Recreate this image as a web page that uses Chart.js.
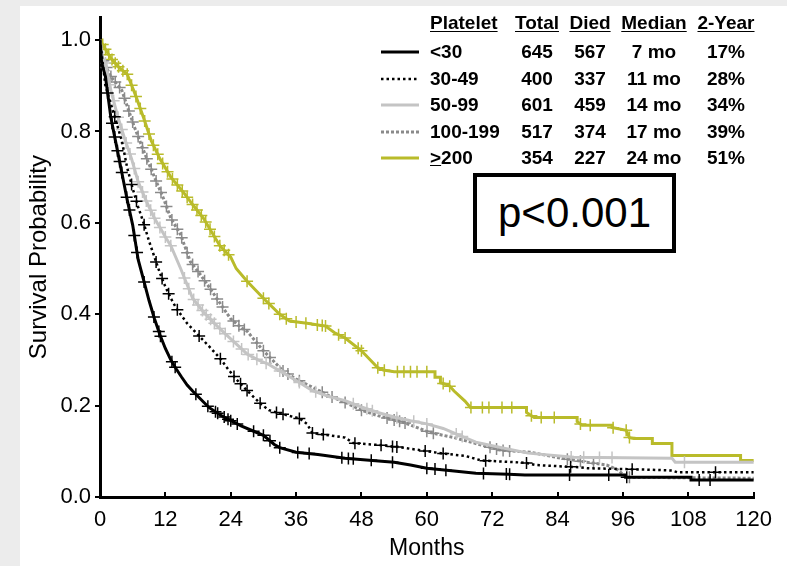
<!DOCTYPE html>
<html>
<head>
<meta charset="utf-8">
<title>Supervivencia por plaquetas</title>
<script src="https://cdn.jsdelivr.net/npm/chart.js@4.4.1/dist/chart.umd.min.js"></script>
<style>
    html, body { margin: 0; padding: 0; background: #fff; }
    #marco { position: relative; width: 787px; height: 566px; overflow: hidden; background: #ececec; }
    #hoja { position: absolute; left: 20px; top: 6px; right: 0; bottom: 0; background: #fff; }
    #grafica { position: absolute; left: 0; top: 0; }
    .celda { position: absolute; font: bold 19px "Liberation Sans", Arial, sans-serif; color: #000; line-height: 22px; height: 22px; white-space: nowrap; }
    .centro { width: 90px; text-align: center; }
    .cabecera { text-decoration: underline; text-underline-offset: 2px; }
    .muestra { position: absolute; }
    #pvalor { position: absolute; left: 473px; top: 173px; width: 195px; height: 72px; border: 4px solid #000; background: #fff;
              font: 42px "Liberation Sans", Arial, sans-serif; line-height: 72px; text-align: center; color: #000; }
</style>
</head>
<body>
<div id="marco">
    <div id="hoja"></div>
    <canvas id="grafica" width="787" height="566"></canvas>
    <div id="tabla"></div>
    <div id="pvalor">p&lt;0.001</div>
</div>
<script>
// Tabla de la leyenda
const grupos = ['<30', '30-49', '50-99', '100-199', '>200'];
const totales = [645, 400, 601, 517, 354];
const muertes = [567, 337, 459, 374, 227];
const medianas = ['7 mo', '11 mo', '14 mo', '17 mo', '24 mo'];
const dosAnios = ['17%', '28%', '34%', '39%', '51%'];

// Marcas del eje
const ticksMeses = [0, 12, 24, 36, 48, 60, 72, 84, 96, 108, 120];
const ticksProb = [0, 0.2, 0.4, 0.6, 0.8, 1.0];

// Curvas de Kaplan-Meier (meses, supervivencia)
const tMenos30 = [0, 0.3, 1, 2, 3, 4, 5, 6, 7, 8, 9, 10, 11, 12, 13, 14, 15, 16, 17, 18, 19, 20, 22, 24, 26, 28, 30, 32, 33, 36, 40, 45, 50, 54, 57, 60, 65, 69, 75, 78, 96.5, 96.5, 108.5, 108.5, 121];
const sMenos30 = [1, 0.95, 0.92, 0.83, 0.77, 0.71, 0.65, 0.595, 0.52, 0.475, 0.43, 0.39, 0.355, 0.325, 0.30, 0.28, 0.262, 0.245, 0.232, 0.22, 0.208, 0.196, 0.18, 0.167, 0.155, 0.145, 0.135, 0.115, 0.108, 0.098, 0.093, 0.085, 0.08, 0.076, 0.07, 0.063, 0.057, 0.052, 0.05, 0.048, 0.048, 0.043, 0.043, 0.037, 0.037];

const t30a49 = [0, 1, 2, 3, 4, 5, 6, 7, 8, 9, 10, 11, 12, 13, 14, 16, 18, 20, 22, 23.5, 25, 27, 29.4, 31, 33, 36.6, 38, 39, 42, 45, 46.5, 52, 55, 59, 63, 67, 70, 78, 80, 88, 89.5, 100, 105, 106, 121];
const s30a49 = [1, 0.9, 0.86, 0.82, 0.78, 0.72, 0.675, 0.635, 0.6, 0.56, 0.525, 0.49, 0.46, 0.435, 0.413, 0.38, 0.355, 0.33, 0.304, 0.28, 0.258, 0.233, 0.205, 0.19, 0.183, 0.172, 0.16, 0.14, 0.135, 0.13, 0.118, 0.113, 0.109, 0.102, 0.095, 0.09, 0.08, 0.075, 0.07, 0.065, 0.063, 0.06, 0.058, 0.054, 0.054];

const t50a99 = [0, 0.5, 1, 2, 3.2, 4.5, 5.8, 7, 8.6, 10, 11, 12.2, 13, 14.8, 17, 19, 21, 23, 25, 27, 29, 31, 33, 36, 39, 42, 45, 48, 51, 54, 57, 60, 63, 67, 69, 72, 78.6, 87, 105, 105.6, 121];
const s50a99 = [1, 0.96, 0.95, 0.89, 0.835, 0.785, 0.74, 0.69, 0.645, 0.61, 0.59, 0.565, 0.55, 0.5, 0.435, 0.405, 0.38, 0.357, 0.335, 0.313, 0.3, 0.29, 0.276, 0.255, 0.233, 0.22, 0.211, 0.197, 0.185, 0.175, 0.167, 0.16, 0.15, 0.13, 0.12, 0.112, 0.096, 0.087, 0.085, 0.076, 0.076];

const t100a199 = [0, 0.5, 2, 4, 6.3, 8.6, 10, 11.7, 13, 14.8, 16.6, 18.4, 20, 23, 24, 26, 27, 30, 33.6, 36, 39, 42, 45, 48, 51, 55.8, 60.6, 65, 69, 73.8, 79, 84.6, 90, 93, 95, 96.6, 121];
const s100a199 = [1, 0.957, 0.92, 0.89, 0.81, 0.74, 0.70, 0.652, 0.61, 0.574, 0.515, 0.487, 0.46, 0.407, 0.39, 0.37, 0.363, 0.32, 0.276, 0.258, 0.24, 0.222, 0.207, 0.19, 0.178, 0.163, 0.141, 0.13, 0.117, 0.102, 0.098, 0.085, 0.075, 0.07, 0.06, 0.043, 0.041];

const tMas200 = [0, 1, 2, 3.5, 5, 6.5, 8, 9.4, 11, 13, 15.3, 17, 19, 22, 24, 25, 27, 30, 33, 34.8, 38, 41.4, 43, 45, 48, 51, 52, 54, 61.5, 61.5, 62.5, 62.5, 64, 65, 67, 68, 78.3, 78.3, 79.7, 87.6, 87.6, 88.5, 94, 94, 96.6, 97.2, 98, 101.4, 101.4, 105, 105, 117.6, 117.6, 121];
const sMas200 = [1, 0.98, 0.96, 0.94, 0.925, 0.88, 0.83, 0.78, 0.74, 0.70, 0.667, 0.64, 0.61, 0.55, 0.525, 0.50, 0.472, 0.435, 0.40, 0.385, 0.38, 0.374, 0.36, 0.348, 0.32, 0.283, 0.278, 0.274, 0.274, 0.262, 0.262, 0.25, 0.245, 0.232, 0.21, 0.196, 0.196, 0.185, 0.174, 0.174, 0.165, 0.157, 0.157, 0.152, 0.146, 0.13, 0.128, 0.128, 0.117, 0.117, 0.091, 0.091, 0.08, 0.08];

// Meses de los pacientes censurados (las cruces)
const censMenos30 = [1.4, 2.2, 2.7, 3.2, 3.6, 4.0, 4.9, 5.4, 6.3, 6.8, 8.1, 9.9, 10.8, 11.1, 13.2, 13.8, 17.6, 19.8, 21.2, 21.6, 22.8, 23.5, 24, 25.2, 28.2, 30, 31.2, 33, 36.3, 38.4, 44.4, 45.6, 46.5, 49.8, 53.7, 60, 61.5, 63.5, 70.4, 74.6, 75.2, 86.2, 93.4, 96.7, 110, 112];
const cens30a49 = [2.7, 5.8, 6.7, 8.1, 10.3, 11.4, 12.6, 14.2, 18.2, 22.1, 24.6, 25.8, 27, 29.4, 32.4, 33.6, 36.6, 39, 41, 46.8, 51.6, 53.7, 54.5, 59.7, 63, 70.8, 78.3, 86.4, 97.7, 113];
const cens50a99 = [1, 1.8, 2.5, 3.3, 4, 4.8, 5.5, 6.3, 7, 7.8, 8.5, 9.3, 10, 11, 12, 13, 15.5, 16.3, 17.2, 18, 18.8, 19.5, 20.3, 21, 22, 23, 24.5, 26, 27.2, 28.8, 30.5, 33, 36.6, 39.6, 46.5, 49, 50, 54.5, 57.6, 60, 65.4, 66.5, 86.5, 88.8, 91.7, 94, 107.3];
const cens100a199 = [0.6, 1.2, 2, 2.8, 3.6, 4.5, 5.3, 6, 7, 7.8, 8.6, 9.4, 10.3, 11.2, 12.2, 13.2, 14.2, 15, 16, 17, 18, 19.2, 20.3, 21.5, 22.5, 24.5, 25.5, 26.5, 28.8, 30, 31.2, 33.6, 34.5, 36.6, 40.8, 42.6, 45, 48, 52.7, 54, 55, 56, 60, 61.2, 71.6, 72.8, 74, 75.2, 85.8, 88.2, 90.6, 97.2];
const censMas200 = [0.5, 1, 1.6, 2.2, 2.8, 3.4, 4.2, 5, 5.8, 6.6, 7.4, 8.2, 9, 9.8, 10.6, 11.5, 12.4, 13.3, 14.2, 15.1, 16, 17, 17.8, 18.6, 19.4, 20.2, 21, 22, 22.8, 23.6, 27, 30, 31, 33, 34.2, 36, 37.8, 39.9, 40.8, 41.4, 43.8, 45, 47.4, 48, 51, 52.2, 54.6, 55.8, 57, 58.2, 60, 63, 64.2, 68.1, 70.2, 71.4, 73.8, 75.6, 79.2, 81, 83.4, 88.2, 90, 94.2, 96.6, 97.2];

const fuente = '"Liberation Sans", Arial, sans-serif';

// Estilo de cada grupo, en el mismo orden que la tabla
const estilos = [
    { color: '#000000', ancho: 3, guion: [] },
    { color: '#000000', ancho: 2.5, guion: [2.5, 3] },
    { color: '#c4c4c4', ancho: 3, guion: [] },
    { color: '#8a8a8a', ancho: 3, guion: [3, 2] },
    { color: '#b9bb2a', ancho: 3, guion: [] },
];
const tiempos = [tMenos30, t30a49, t50a99, t100a199, tMas200];
const supervivencias = [sMenos30, s30a49, s50a99, s100a199, sMas200];
const censuras = [censMenos30, cens30a49, cens50a99, cens100a199, censMas200];

// Valor de la curva en un mes dado, para colocar la cruz encima de la linea
function valorCurva(ts, ss, mes) {
    for (let i = 1; i < ts.length; i++) {
        if (mes <= ts[i]) {
            const tramo = ts[i] - ts[i - 1];
            if (tramo === 0) {
                return ss[i - 1];
            }
            return ss[i - 1] + (ss[i] - ss[i - 1]) * (mes - ts[i - 1]) / tramo;
        }
    }
    return ss[ss.length - 1];
}

const datasets = [];

estilos.forEach(function (estilo, i) {
    datasets.push({
        type: 'line',
        label: grupos[i],
        data: tiempos[i].map(function (t, j) { return { x: t, y: supervivencias[i][j] }; }),
        borderColor: estilo.color,
        borderWidth: estilo.ancho,
        borderDash: estilo.guion,
        pointRadius: 0,
        fill: false,
        tension: 0,
    });
    datasets.push({
        type: 'scatter',
        label: grupos[i] + ' censurados',
        data: censuras[i].map(function (t) { return { x: t, y: valorCurva(tiempos[i], supervivencias[i], t) }; }),
        pointStyle: 'cross',
        pointRadius: 6,
        borderColor: estilo.color,
        backgroundColor: estilo.color,
        borderWidth: 1.5,
    });
});

new Chart(document.getElementById('grafica'), {
    data: { datasets: datasets },
    options: {
        responsive: false,
        animation: false,
        layout: { padding: { top: 13, right: 20, bottom: 0, left: 0 } },
        plugins: {
            legend: { display: false },
            tooltip: { enabled: false },
        },
        scales: {
            x: {
                type: 'linear',
                min: 0,
                max: 120,
                afterBuildTicks: function (scale) {
                    scale.ticks = ticksMeses.map(function (v) { return { value: v }; });
                },
                afterFit: function (scale) {
                    scale.height = 69;
                },
                ticks: {
                    color: '#000',
                    font: { family: fuente, size: 22 },
                    padding: 15,
                    maxRotation: 0,
                    callback: function (v) { return String(v); },
                },
                grid: { drawOnChartArea: false, tickLength: -5, color: '#000', lineWidth: 2 },
                border: { color: '#000', width: 3 },
                title: {
                    display: true,
                    text: 'Months',
                    color: '#000',
                    font: { family: fuente, size: 23 },
                    padding: { top: 0, bottom: 4 },
                },
            },
            y: {
                type: 'linear',
                min: 0,
                max: 1.05,
                afterBuildTicks: function (scale) {
                    scale.ticks = ticksProb.map(function (v) { return { value: v }; });
                },
                afterFit: function (scale) {
                    scale.width = 100;
                },
                ticks: {
                    color: '#000',
                    font: { family: fuente, size: 22 },
                    padding: 4,
                    callback: function (v) { return Number(v).toFixed(1); },
                },
                grid: { drawOnChartArea: false, tickLength: 5, color: '#000', lineWidth: 2 },
                border: { color: '#000', width: 3 },
                title: {
                    display: true,
                    text: 'Survival Probability',
                    color: '#000',
                    font: { family: fuente, size: 24 },
                    padding: { top: 25, bottom: 0 },
                },
            },
        },
    },
});

// Tabla de la leyenda en texto HTML, encima del lienzo
const tabla = document.getElementById('tabla');
const filaCabecera = 23;
const altoFila = 26.5;
const primeraFila = 52;
const columnas = [
    { titulo: 'Total', centro: 537, valores: totales },
    { titulo: 'Died', centro: 590, valores: muertes },
    { titulo: 'Median', centro: 654, valores: medianas },
    { titulo: '2-Year', centro: 726, valores: dosAnios },
];

function celda(texto, x, yCentro, clases) {
    const div = document.createElement('div');
    div.className = 'celda ' + clases;
    div.style.left = x + 'px';
    div.style.top = (yCentro - 11) + 'px';
    div.textContent = texto;
    tabla.appendChild(div);
    return div;
}

celda('Platelet', 430, filaCabecera, 'cabecera');
columnas.forEach(function (col) {
    celda(col.titulo, col.centro - 45, filaCabecera, 'centro cabecera');
});

grupos.forEach(function (grupo, i) {
    const y = primeraFila + i * altoFila;
    const etiqueta = celda('', 430, y, '');
    if (grupo.charAt(0) === '>') {
        const signo = document.createElement('u');
        signo.textContent = '>';
        etiqueta.appendChild(signo);
        etiqueta.appendChild(document.createTextNode(grupo.slice(1)));
    } else {
        etiqueta.textContent = grupo;
    }
    columnas.forEach(function (col) {
        celda(String(col.valores[i]), col.centro - 45, y, 'centro');
    });

    // Muestra de linea con el mismo estilo que la curva
    const svgNS = 'http://www.w3.org/2000/svg';
    const svg = document.createElementNS(svgNS, 'svg');
    svg.setAttribute('class', 'muestra');
    svg.setAttribute('width', '40');
    svg.setAttribute('height', '6');
    svg.style.left = '380px';
    svg.style.top = (y - 3) + 'px';
    const linea = document.createElementNS(svgNS, 'line');
    linea.setAttribute('x1', '1');
    linea.setAttribute('x2', '39');
    linea.setAttribute('y1', '3');
    linea.setAttribute('y2', '3');
    linea.setAttribute('stroke', estilos[i].color);
    linea.setAttribute('stroke-width', estilos[i].ancho);
    if (estilos[i].guion.length) {
        linea.setAttribute('stroke-dasharray', estilos[i].guion.join(' '));
    }
    svg.appendChild(linea);
    tabla.appendChild(svg);
});
</script>
</body>
</html>
